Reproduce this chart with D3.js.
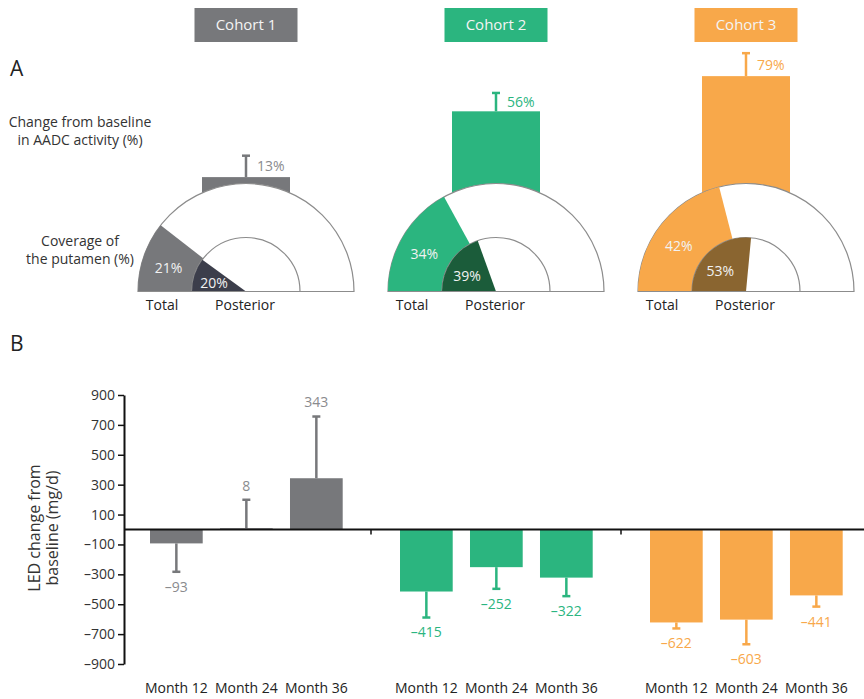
<!DOCTYPE html>
<html><head><meta charset="utf-8">
<script src="https://cdn.jsdelivr.net/npm/d3@7"></script>
<style>body{margin:0;background:#fff;} text{font-family:"Open Sans",sans-serif;}</style>
</head><body><svg id="c" width="864" height="699"></svg>
<script>
const cohorts = ["Cohort 1","Cohort 2","Cohort 3"];
const aadcChange = [13,56,79];
const aadcErr = [14,12,15];
const totalCoverage = [21,34,42];
const posteriorCoverage = [20,39,53];
const months = ["Month 12","Month 24","Month 36"];
const ledValues = [[-93,8,343],[-415,-252,-322],[-622,-603,-441]];
const ledErrors = [[190,191,413],[174,145,124],[40,165,75]];
const yTicks = [900,700,500,300,100,-100,-300,-500,-700,-900];
const colors = ["#77787b","#2bb57f","#f8a84a"];
const darkColors = ["#3c3e4b","#1b5c3a","#8a6530"];
const textColors = ["#8a8b8e","#2bb57f","#f8a84a"];

const svg = d3.select("#c");
const fmt = v => (v < 0 ? "\u2013" + Math.abs(v) : String(v));

const xGroup = d3.scaleBand().domain(cohorts).range([121, 871]);
const gc = c => xGroup(c) + xGroup.bandwidth()/2;

// headers
cohorts.forEach((c,i) => {
  svg.append("rect").attr("x", gc(c)-51.5).attr("y", 8).attr("width", 103).attr("height", 34).attr("fill", colors[i]);
  svg.append("text").attr("x", gc(c)).attr("y", 25).attr("dy","0.35em").attr("text-anchor","middle")
    .attr("fill","#f4f4f4").attr("font-size",15).text(c);
});

// Panel A
svg.append("text").attr("x",10).attr("y",76).attr("font-size",21).attr("fill","#222").text("A");
svg.append("text").attr("x",10).attr("y",351).attr("font-size",21).attr("fill","#222").text("B");
const leftLbl = (lines, y0) => lines.forEach((t,k) => svg.append("text").attr("x",80).attr("y",y0+k*18)
  .attr("text-anchor","middle").attr("font-size",14).attr("fill","#333").text(t));
leftLbl(["Change from baseline","in AADC activity (%)"], 127);
leftLbl(["Coverage of","the putamen (%)"], 246);

const baseY = 291.5, rOut = 108, rIn = 54;
const yA = d3.scaleLinear().domain([0,100]).range([197, 44]);
const ang = d3.scaleLinear().domain([0,100]).range([-Math.PI/2, Math.PI/2]);
const arc = d3.arc();

cohorts.forEach((c,i) => {
  const cx = gc(c);
  const g = svg.append("g");
  g.append("rect").attr("x", cx-44).attr("width", 88).attr("y", yA(aadcChange[i]))
    .attr("height", yA(0)-yA(aadcChange[i])).attr("fill", colors[i]);
  const top = yA(aadcChange[i]+aadcErr[i]);
  g.append("line").attr("x1",cx).attr("x2",cx).attr("y1",yA(aadcChange[i])).attr("y2",top)
    .attr("stroke",colors[i]).attr("stroke-width",2.5);
  g.append("line").attr("x1",cx-4).attr("x2",cx+4).attr("y1",top).attr("y2",top)
    .attr("stroke",colors[i]).attr("stroke-width",2.5);
  g.append("text").attr("x",cx+11).attr("y",(top+yA(aadcChange[i]))/2).attr("dy","0.35em")
    .attr("font-size",14).attr("fill",textColors[i]).text(aadcChange[i]+"%");

  const s = g.append("g").attr("transform",`translate(${cx},${baseY})`);
  s.append("path").attr("d", arc({innerRadius:0,outerRadius:rOut,startAngle:-Math.PI/2,endAngle:Math.PI/2}))
    .attr("fill","#fff").attr("stroke","#8c8c8c").attr("stroke-width",1.2);
  s.append("path").attr("d", arc({innerRadius:0,outerRadius:rOut,startAngle:ang(0),endAngle:ang(totalCoverage[i])}))
    .attr("fill",colors[i]);
  s.append("path").attr("d", arc({innerRadius:0,outerRadius:rIn,startAngle:-Math.PI/2,endAngle:Math.PI/2}))
    .attr("fill","#fff").attr("stroke","#8c8c8c").attr("stroke-width",1.2);
  s.append("path").attr("d", arc({innerRadius:0,outerRadius:rIn,startAngle:ang(0),endAngle:ang(posteriorCoverage[i])}))
    .attr("fill",darkColors[i]);
  s.append("line").attr("x1",-rOut).attr("x2",rOut).attr("y1",0).attr("y2",0).attr("stroke","#8c8c8c").attr("stroke-width",1.2);

  const halfT = (totalCoverage[i]/100*Math.PI)/2*0.9;
  s.append("text").attr("x",-81*Math.cos(halfT)).attr("y",-81*Math.sin(halfT)).attr("dy","0.35em")
    .attr("text-anchor","middle").attr("font-size",14).attr("fill","#f2f2f2").text(totalCoverage[i]+"%");
  const halfP = (posteriorCoverage[i]/100*Math.PI)/2*0.82;
  s.append("text").attr("x",-33*Math.cos(halfP)).attr("y",-33*Math.sin(halfP)).attr("dy","0.35em")
    .attr("text-anchor","middle").attr("font-size",14).attr("fill","#f2f2f2").text(posteriorCoverage[i]+"%");

  s.append("text").attr("x",-84).attr("y",14).attr("dy","0.35em").attr("text-anchor","middle")
    .attr("font-size",14).attr("fill","#222").text("Total");
  s.append("text").attr("x",-1).attr("y",14).attr("dy","0.35em").attr("text-anchor","middle")
    .attr("font-size",14).attr("fill","#222").text("Posterior");
});

// Panel B
const yB = d3.scaleLinear().domain([-900,900]).range([664,395]);
const xMonth = d3.scaleBand().domain(months).range([29, 221.7]).paddingInner(0.247).paddingOuter(0);

const axis = svg.append("g").attr("transform","translate(124,0)")
  .call(d3.axisLeft(yB).tickValues(yTicks).tickFormat(fmt).tickSize(6).tickSizeOuter(0).tickPadding(3));
axis.select(".domain").attr("stroke","#111").attr("stroke-width",2);
axis.selectAll(".tick line").attr("stroke","#111").attr("stroke-width",1.5);
axis.selectAll(".tick text").attr("font-size",14).attr("fill","#333").attr("font-family","Open Sans");

svg.append("text").attr("transform","translate(40,528) rotate(-90)").attr("text-anchor","middle")
  .attr("font-size",16).attr("fill","#333")
  .selectAll("tspan").data(["LED change from","baseline (mg/d)"]).join("tspan")
  .attr("x",0).attr("dy",(d,k)=>k===0?"0":"1.15em").text(d=>d);

cohorts.forEach((c,i) => {
  const x0 = xGroup(c);
  months.forEach((m,j) => {
    const v = ledValues[i][j], e = ledErrors[i][j];
    const bx = x0 + xMonth(m), bw = xMonth.bandwidth(), cx = bx + bw/2;
    svg.append("rect").attr("x",bx).attr("width",bw).attr("y",yB(Math.max(0,v)))
      .attr("height",Math.abs(yB(v)-yB(0))).attr("fill",colors[i]);
    const cap = yB(v + (v<0?-e:e));
    svg.append("line").attr("x1",cx).attr("x2",cx).attr("y1",yB(v)).attr("y2",cap)
      .attr("stroke",colors[i]).attr("stroke-width",2.5);
    svg.append("line").attr("x1",cx-4).attr("x2",cx+4).attr("y1",cap).attr("y2",cap)
      .attr("stroke",colors[i]).attr("stroke-width",2.5);
    svg.append("text").attr("x",cx).attr("y",cap+(v<0?15:-14)).attr("dy","0.35em").attr("text-anchor","middle")
      .attr("font-size",14).attr("fill",textColors[i]).text(fmt(v));
    svg.append("text").attr("x",cx).attr("y",688).attr("dy","0.35em").attr("text-anchor","middle")
      .attr("font-size",14).attr("fill","#222").text(m);
  });
});

svg.append("line").attr("x1",124).attr("x2",864).attr("y1",yB(0)).attr("y2",yB(0)).attr("stroke","#111").attr("stroke-width",2);
cohorts.slice(1).forEach(c => {
  svg.append("line").attr("x1",xGroup(c)).attr("x2",xGroup(c)).attr("y1",yB(0)).attr("y2",yB(0)+5)
    .attr("stroke","#111").attr("stroke-width",1.5);
});
</script></body></html>
